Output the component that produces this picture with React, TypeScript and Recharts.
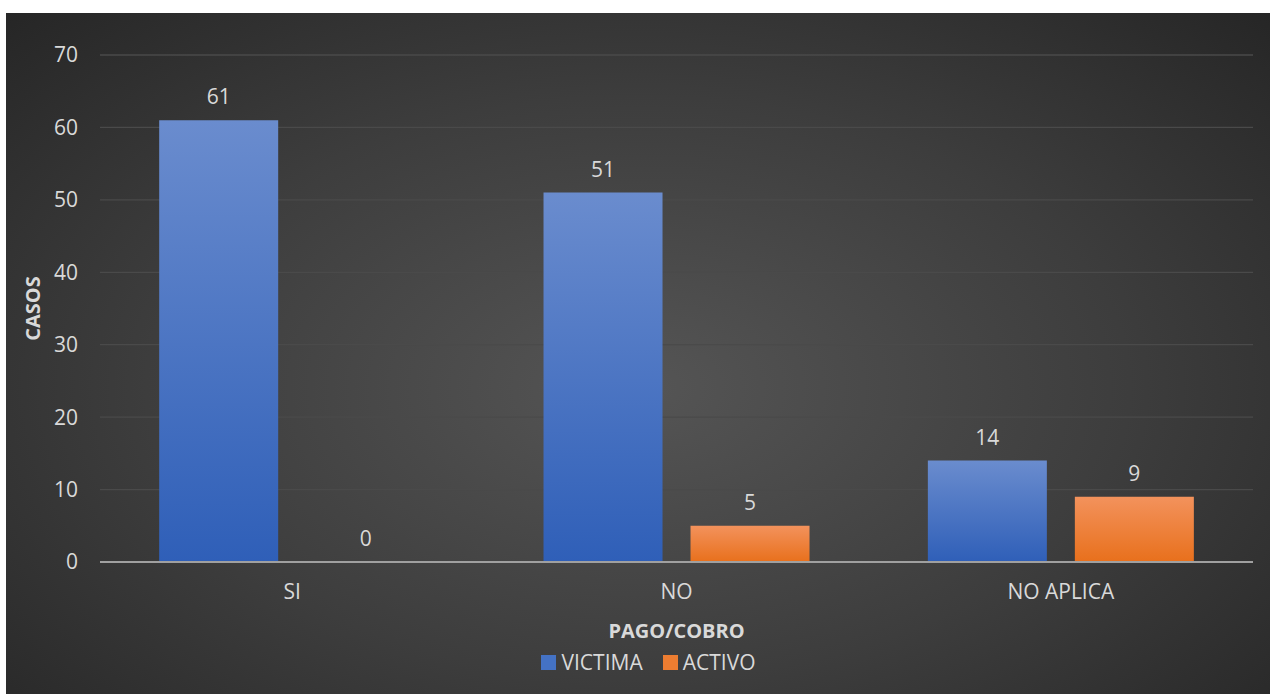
import React from "react";
import {
  BarChart,
  Bar,
  XAxis,
  YAxis,
  CartesianGrid,
  Legend,
  LabelList,
} from "recharts";

const categories = ["SI", "NO", "NO APLICA"];
const victima = [61, 51, 14];
const activo = [0, 5, 9];
const yTicks = [0, 10, 20, 30, 40, 50, 60, 70];
const boundaryTicks = [0, 1, 2, 3];

const data = categories.map((c, i) => ({
  cat: c,
  pos: i + 0.5,
  VICTIMA: victima[i],
  ACTIVO: activo[i],
}));

const FONT = "'Open Sans', sans-serif";
const TXT = "#d9d9d9";
const FS = 21;

function LegendContent() {
  const items = [
    { name: "VICTIMA", color: "#4472c4" },
    { name: "ACTIVO", color: "#ed7d31" },
  ];
  return (
    <div
      style={{
        display: "flex",
        justifyContent: "center",
        alignItems: "center",
        gap: 20,
        fontFamily: FONT,
        fontSize: FS,
        color: TXT,
        height: 30,
      }}
    >
      {items.map((it) => (
        <span key={it.name} style={{ display: "flex", alignItems: "center" }}>
          <span
            style={{
              width: 15,
              height: 15,
              background: it.color,
              display: "inline-block",
              marginRight: 5,
            }}
          />
          {it.name}
        </span>
      ))}
    </div>
  );
}

const valueLabel = (props: any) => {
  const { x, y, width, value } = props;
  return (
    <text
      x={Number(x) + Number(width) / 2}
      y={Number(y) - 16}
      textAnchor="middle"
      fill={TXT}
      fontSize={FS}
      fontFamily={FONT}
    >
      {value}
    </text>
  );
};

// keep zero-valued bars so their "0" label is still drawn
const keepZero = (v: any) => (Number(v) === 0 ? 0.01 : 0);

export default function App() {
  return (
    <div
      style={{
        position: "absolute",
        left: 6,
        top: 13,
        width: 1264,
        height: 681,
        background:
          "radial-gradient(ellipse at 50% 55%, #555555 0%, #3d3d3d 55%, #262626 100%)",
      }}
    >
      <BarChart
        width={1264}
        height={681}
        data={data}
        margin={{ top: 42, right: 17, left: 0, bottom: 0 }}
        barCategoryGap="15.4%"
        barGap={28}
      >
        <defs>
          <linearGradient id="gBlue" x1="0" y1="0" x2="0" y2="1">
            <stop offset="0%" stopColor="#6a8cce" />
            <stop offset="100%" stopColor="#2f5fb8" />
          </linearGradient>
          <linearGradient id="gOrange" x1="0" y1="0" x2="0" y2="1">
            <stop offset="0%" stopColor="#f3925c" />
            <stop offset="100%" stopColor="#e8701c" />
          </linearGradient>
        </defs>
        <CartesianGrid vertical={false} stroke="#4a4a4a" strokeWidth={1.3} />
        <XAxis
          dataKey="cat"
          height={102}
          axisLine={{ stroke: "#a0a0a0", strokeWidth: 2 }}
          tickLine={false}
          tick={{ fill: TXT, fontSize: FS, fontFamily: FONT }}
          tickMargin={16}
          label={{
            value: "PAGO/COBRO",
            position: "insideTop",
            offset: 62,
            fill: TXT,
            fontSize: FS - 1,
            fontWeight: 700,
            fontFamily: FONT,
          }}
        />
        <XAxis
          xAxisId="b"
          type="number"
          dataKey="pos"
          domain={[0, 3]}
          ticks={boundaryTicks}
          height={0}
          axisLine={false}
          tick={false}
          tickLine={{ stroke: "#a0a0a0", strokeWidth: 2 }}
          tickSize={7}
        />
        <YAxis
          width={94}
          domain={[0, 70]}
          ticks={yTicks}
          axisLine={false}
          tickLine={false}
          tickMargin={16}
          tick={{ fill: TXT, fontSize: FS, fontFamily: FONT }}
          label={{
            value: "CASOS",
            angle: -90,
            position: "center",
            dx: -20,
            fill: TXT,
            fontSize: FS - 1,
            fontWeight: 700,
            fontFamily: FONT,
          }}
        />
        <Legend
          verticalAlign="bottom"
          content={<LegendContent />}
          wrapperStyle={{ bottom: 17, height: 30, left: 19 }}
        />
        <Bar dataKey="VICTIMA" fill="url(#gBlue)" isAnimationActive={false}>
          <LabelList dataKey="VICTIMA" content={valueLabel} />
        </Bar>
        <Bar
          dataKey="ACTIVO"
          fill="url(#gOrange)"
          minPointSize={keepZero}
          isAnimationActive={false}
        >
          <LabelList dataKey="ACTIVO" content={valueLabel} />
        </Bar>
      </BarChart>
    </div>
  );
}
